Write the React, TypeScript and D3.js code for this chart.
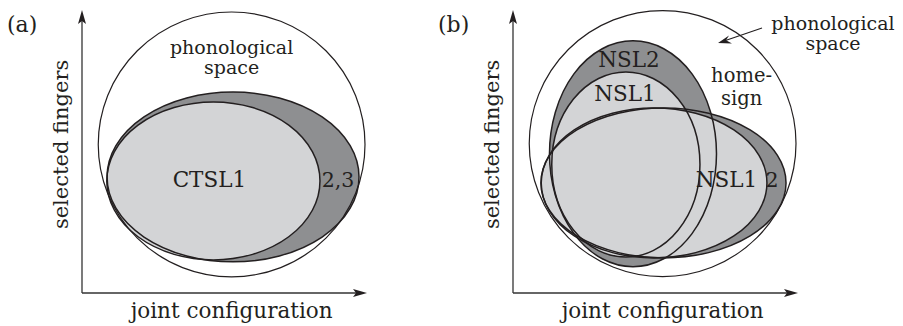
import React from "react";
import * as d3 from "d3";

const W = 903;
const H = 326;

// Region shapes in axis units (0–100 on each axis)
type Shape = { name: string; cx: number; cy: number; rx: number; ry: number; kind: "dark" | "light" | "space" };

const panelAShapes: Shape[] = [
  { name: "phonological space", cx: 52.5, cy: 52.5, rx: 46.8, ry: 46.8, kind: "space" },
  { name: "CTSL2,3", cx: 53.0, cy: 41.0, rx: 44.2, ry: 30.0, kind: "dark" },
  { name: "CTSL1", cx: 46.1, cy: 39.6, rx: 37.4, ry: 27.9, kind: "light" },
];

const panelBShapes: Shape[] = [
  { name: "phonological space", cx: 52.5, cy: 52.8, rx: 46.8, ry: 47.0, kind: "space" },
  { name: "NSL2 (tall)", cx: 42.1, cy: 49.2, rx: 29.3, ry: 39.9, kind: "dark" },
  { name: "NSL2 (wide)", cx: 52.8, cy: 38.9, rx: 43.0, ry: 26.5, kind: "dark" },
  { name: "NSL1 (tall)", cx: 39.6, cy: 45.4, rx: 26.0, ry: 32.7, kind: "light" },
  { name: "NSL1 (wide)", cx: 49.5, cy: 38.9, rx: 39.6, ry: 26.5, kind: "light" },
];

// Each label may wrap onto several lines (first line at y, next lines below)
type Label = { lines: string[]; x: number; y: number; role: "note" | "region" | "small" | "pair" };

const panelALabels: Label[] = [
  { lines: ["phonological", "space"], x: 52.5, y: 84.5, role: "note" },
  { lines: ["CTSL1"], x: 44.7, y: 37.5, role: "region" },
  { lines: ["2,3"], x: 89.8, y: 37.5, role: "small" },
];

const panelBLabels: Label[] = [
  { lines: ["NSL2"], x: 40.7, y: 79.9, role: "region" },
  { lines: ["NSL1"], x: 39.3, y: 67.8, role: "region" },
  { lines: ["home-", "sign"], x: 80.2, y: 74.4, role: "pair" },
  { lines: ["NSL1"], x: 74.9, y: 37.5, role: "region" },
  { lines: ["2"], x: 90.9, y: 37.5, role: "small" },
];

const panels = [
  { tag: "(a)", ox: 82, shapes: panelAShapes, labels: panelALabels },
  { tag: "(b)", ox: 513, shapes: panelBShapes, labels: panelBLabels },
];

const FONT = "'DejaVu Serif', serif";
const LIGHT = "#d3d4d6";
const DARK = "#8e8f91";
const INK = "#231f20";
const SIZE: Record<string, number> = { note: 19, region: 21.5, small: 20.5, pair: 19.5 };
const LEAD: Record<string, number> = { note: 20, region: 22, small: 20, pair: 23 };

function Panel({ tag, ox, shapes, labels }: { tag: string; ox: number; shapes: Shape[]; labels: Label[] }) {
  const oy = 293;
  const x = d3.scaleLinear().domain([0, 100]).range([ox, ox + 285]);
  const y = d3.scaleLinear().domain([0, 100]).range([oy, oy - 283]);
  const kx = (v: number) => x(v) - x(0);
  const ky = (v: number) => y(0) - y(v);
  const order = (k: string) => (k === "space" ? 0 : k === "dark" ? 1 : 2);
  const filled = [...shapes].sort((a, b) => order(a.kind) - order(b.kind));
  const ax = x(0);
  return (
    <g>
      <text x={ox - 75} y={32} fontFamily={FONT} fontSize={22} fill={INK}>{tag}</text>
      {filled.map((s, i) => (
        <ellipse key={"f" + i} cx={x(s.cx)} cy={y(s.cy)} rx={kx(s.rx)} ry={ky(s.ry)}
          fill={s.kind === "dark" ? DARK : s.kind === "light" ? LIGHT : "white"} stroke="none" />
      ))}
      {shapes.map((s, i) => (
        <ellipse key={"s" + i} cx={x(s.cx)} cy={y(s.cy)} rx={kx(s.rx)} ry={ky(s.ry)}
          fill="none" stroke={INK} strokeWidth={s.kind === "space" ? 1.2 : 1.5} />
      ))}
      {labels.map((l, i) => (
        <text key={"l" + i} x={x(l.x)} y={y(l.y)} textAnchor="middle" fontFamily={FONT} fontSize={SIZE[l.role]} fill={INK}>
          {l.lines.map((t, j) => (
            <tspan key={j} x={x(l.x)} dy={j === 0 ? 0 : LEAD[l.role]}>{t}</tspan>
          ))}
        </text>
      ))}
      <line x1={ax} y1={oy} x2={ax} y2={y(98.5)} stroke="#333" strokeWidth={1.3} />
      <path d={`M${ax},${y(100)} L${ax - 4},${y(100) + 14} L${ax},${y(100) + 11} L${ax + 4},${y(100) + 14} Z`} fill={INK} />
      <line x1={ax} y1={oy} x2={x(98.5)} y2={oy} stroke="#333" strokeWidth={1.3} />
      <path d={`M${x(100)},${oy} L${x(100) - 14},${oy - 4} L${x(100) - 11},${oy} L${x(100) - 14},${oy + 4} Z`} fill={INK} />
      <text x={x(52.5)} y={318} textAnchor="middle" fontFamily={FONT} fontSize={21.5} fill={INK}>joint configuration</text>
      <text transform={`translate(${ax - 14},${y(52.5)}) rotate(-90)`} textAnchor="middle" fontFamily={FONT} fontSize={21} fill={INK}>selected fingers</text>
    </g>
  );
}

export default function App() {
  return (
    <svg width={W} height={H} style={{ position: "absolute", left: 0, top: 0, background: "white" }}>
      {panels.map((p) => (
        <Panel key={p.tag} {...p} />
      ))}
      {/* phonological space callout in panel b */}
      <text x={833} y={30} textAnchor="middle" fontFamily={FONT} fontSize={19} fill={INK}>
        <tspan x={833} dy={0}>phonological</tspan>
        <tspan x={833} dy={20}>space</tspan>
      </text>
      <line x1={762} y1={28} x2={724} y2={41} stroke={INK} strokeWidth={1.1} />
      <path d="M718,43 L729,35.5 L726,40.3 L732,43.5 Z" fill={INK} />
    </svg>
  );
}
